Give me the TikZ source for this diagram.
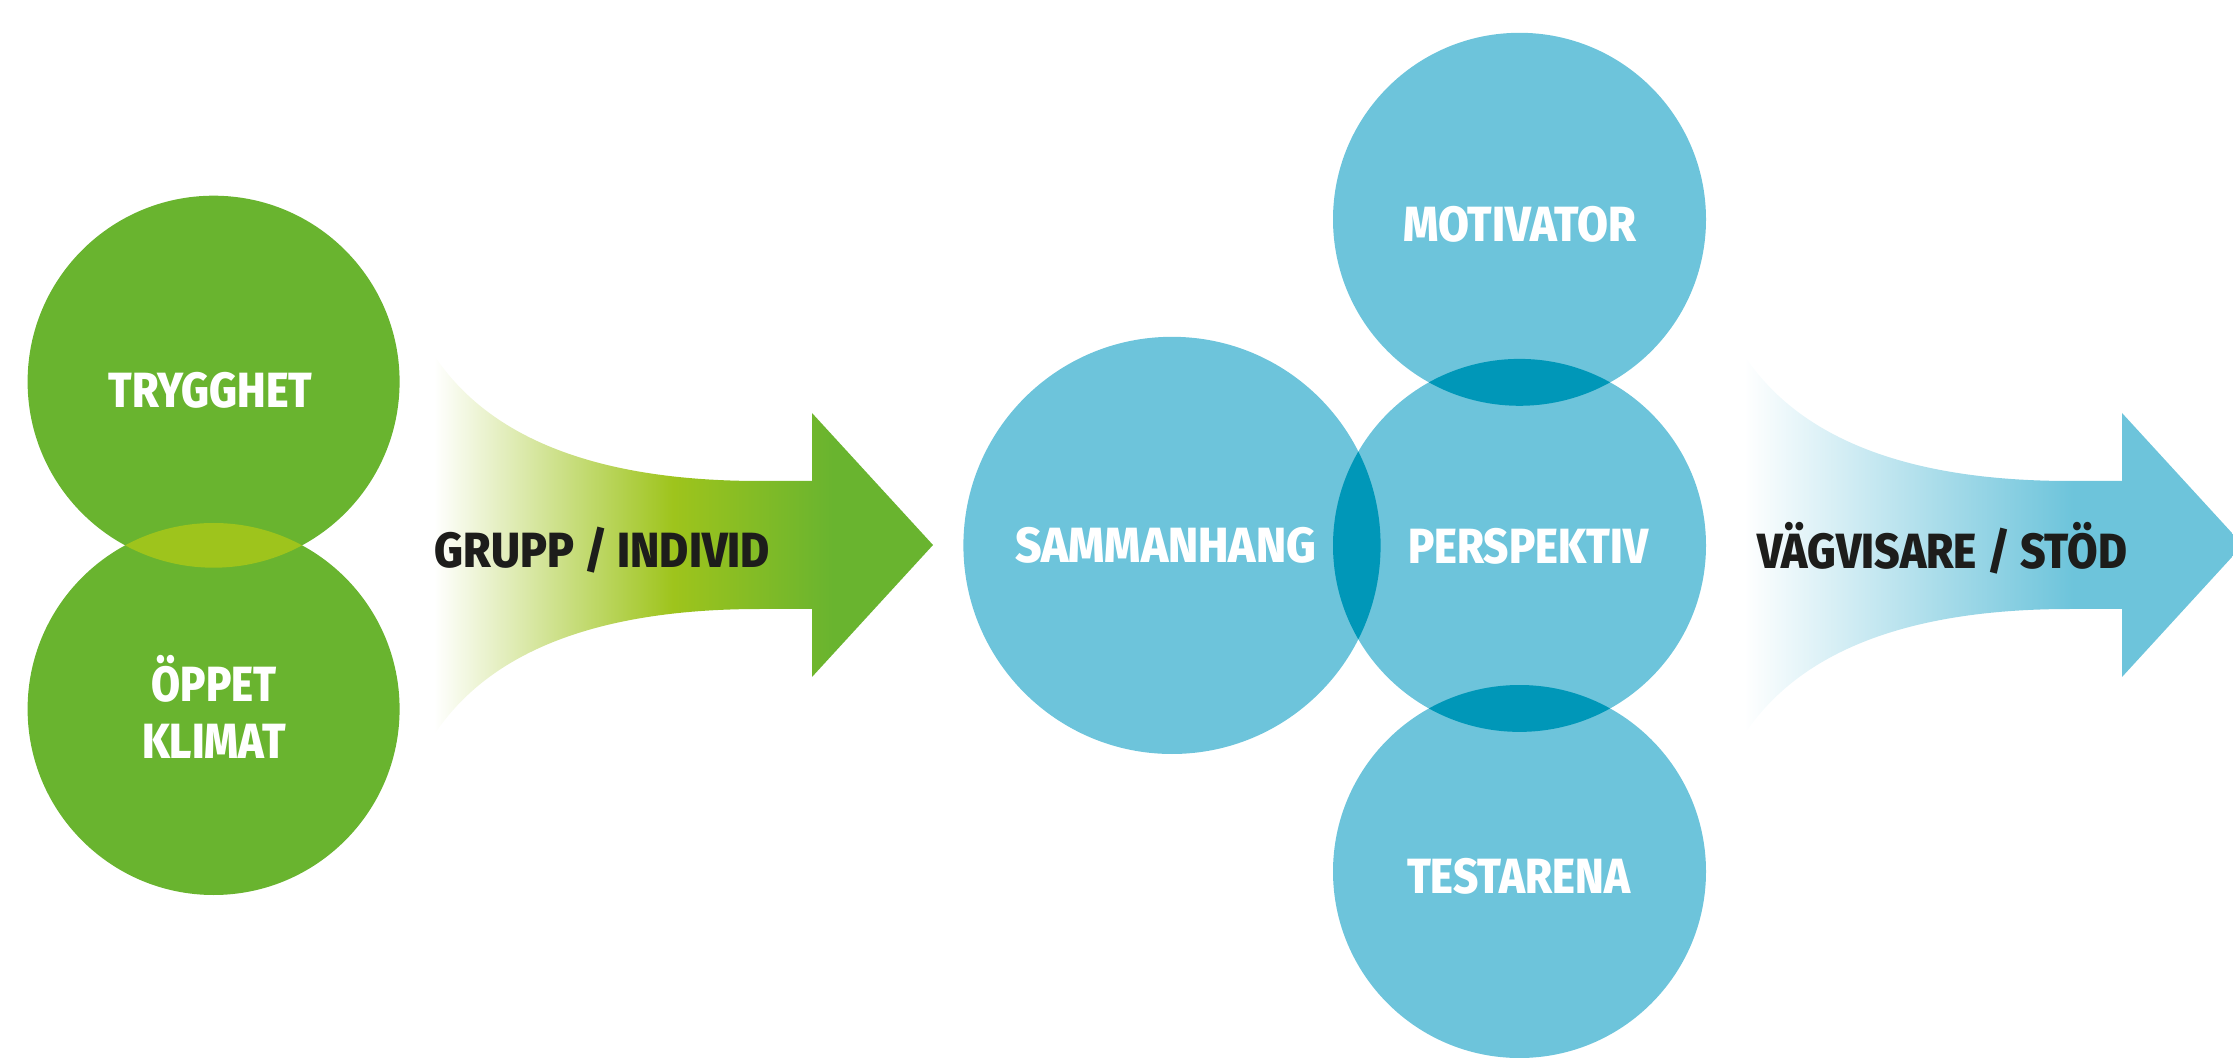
\documentclass[tikz,border=0pt]{standalone}
\usepackage{fontspec}
\setmainfont{Fira Sans}[BoldFont=Fira Sans ExtraBold]
\definecolor{cgreen}{HTML}{69B42F}
\definecolor{clens}{HTML}{9EC41C}
\definecolor{cblue}{HTML}{6DC4DB}
\definecolor{cdeep}{HTML}{0097B8}
\definecolor{ctext}{HTML}{1D1D1B}
\pgfdeclarehorizontalshading{greenfade}{100bp}{color(0bp)=(white); color(25bp)=(white); color(49bp)=(clens); color(65bp)=(cgreen); color(100bp)=(cgreen)}
\pgfdeclarehorizontalshading{bluefade}{100bp}{color(0bp)=(white); color(25bp)=(white); color(58bp)=(cblue); color(100bp)=(cblue)}
\newcommand{\fitw}[2]{\resizebox{#1}{\height}{#2}}
\begin{document}
\begin{tikzpicture}[x=0.5pt,y=-0.5pt,
  gdisc/.style={circle, fill=cgreen, inner sep=0pt, minimum size=186pt},
  bdisc/.style={circle, fill=cblue, inner sep=0pt, minimum size=186.5pt},
  bigdisc/.style={circle, fill=cblue, inner sep=0pt, minimum size=208.6pt},
  lbl/.style={text=white, font=\fontsize{24.7}{29}\selectfont\bfseries, align=center, inner sep=0pt, anchor=base},
  arrowlbl/.style={text=ctext, font=\fontsize{24.7}{29}\selectfont\bfseries, inner sep=0pt, anchor=base}]
\clip (0,0) rectangle (2233,1058);
% green arrow
\shade[shading=greenfade] (434,355) .. controls (490,440) and (600,481) .. (760,481) -- (812,481) -- (812,413) -- (933,545) -- (812,677) -- (812,609) -- (760,609) .. controls (600,609) and (490,650) .. (434,735) -- cycle;
% blue arrow
\begin{scope}[shift={(1310,0)}]
\shade[shading=bluefade] (434,355) .. controls (490,440) and (600,481) .. (760,481) -- (812,481) -- (812,413) -- (933,545) -- (812,677) -- (812,609) -- (760,609) .. controls (600,609) and (490,650) .. (434,735) -- cycle;
\end{scope}
% green circles
\node[gdisc] (tryg) at (213.6,381.7) {};
\node[gdisc] (oppet) at (213.6,709) {};
\begin{scope}
\clip (tryg.center) circle[radius=93pt];
\fill[clens] (oppet.center) circle[radius=93pt];
\end{scope}
% blue circles
\node[bigdisc] (samm) at (1172,545.4) {};
\node[bdisc] (motiv) at (1519.5,219.3) {};
\node[bdisc] (persp) at (1519.5,545.4) {};
\node[bdisc] (test) at (1519.5,871.5) {};
\begin{scope}
\clip (persp.center) circle[radius=93.25pt];
\fill[cdeep] (samm.center) circle[radius=104.3pt];
\fill[cdeep] (motiv.center) circle[radius=93.25pt];
\fill[cdeep] (test.center) circle[radius=93.25pt];
\end{scope}
% labels
\node[lbl] (lTryg) at (210.5,407.5) {\fitw{102pt}{TRYGGHET}};
\node[lbl] (lOppet) at (214,759) {\fitw{62.5pt}{ÖPPET}\\\fitw{72pt}{KLIMAT}};
\node[lbl] (lSamm) at (1165.5,563) {\fitw{150.5pt}{SAMMANHANG}};
\node[lbl] (lPersp) at (1528,564) {\fitw{120pt}{PERSPEKTIV}};
\node[lbl] (lMotiv) at (1520,242) {\fitw{116.5pt}{MOTIVATOR}};
\node[lbl] (lTest) at (1518.5,893) {\fitw{111.5pt}{TESTARENA}};
\node[arrowlbl] (lGrupp) at (602.5,568) {\fitw{167.5pt}{GRUPP / INDIVID}};
\node[arrowlbl] (lVag) at (1942,569) {\fitw{185pt}{VÄGVISARE / STÖD}};
\end{tikzpicture}
\end{document}
